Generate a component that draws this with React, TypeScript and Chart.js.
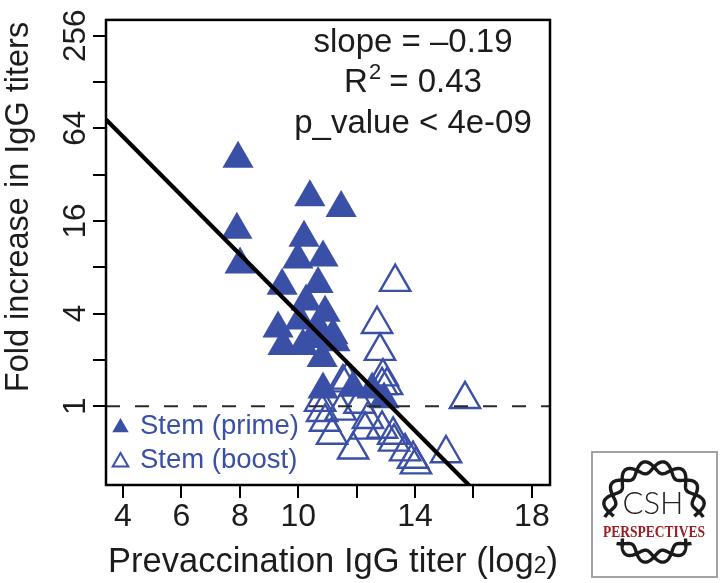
import React, { useEffect, useRef } from "react";
import { Chart, registerables } from "chart.js";

Chart.register(...registerables);

// ---- axis ranges (x: log2 prevaccination titer, y: log2 fold increase) ----
const X_MIN = 3.42;
const X_MAX = 18.62;
const Y_MIN = -1.7;
const Y_MAX = 8.34;

const xTickValues = [4, 6, 8, 10, 12, 14, 16, 18];
const xTickLabelled = [4, 6, 8, 10, 14, 18];
const yTickValues = [0, 1, 2, 3, 4, 5, 6, 7, 8];
const yTickLabelled = [0, 2, 4, 6, 8];

// ---- Stem (prime): filled triangles ----
const primeX = [7.94, 10.4, 11.47, 7.9, 8.01, 10.2, 10.85, 9.99, 10.68, 9.45, 10.27, 9.31, 9.48, 10.16, 10.06, 10.68, 11.19, 10.92, 10.82, 11.26, 10.85, 11.88, 12.53, 12.94, 10.55];
const primeLog2Fold = [5.34, 4.51, 4.28, 3.81, 3.06, 3.64, 3.21, 3.17, 2.64, 2.6, 2.26, 1.68, 1.3, 1.3, 1.85, 1.7, 1.53, 2.02, 1.04, 1.38, 0.36, 0.4, 0.36, 0.15, 1.45];

// ---- Stem (boost): open triangles ----
const boostX = [13.32, 12.7, 12.8, 15.71, 15.06, 14.03, 13.66, 13.28, 11.88, 11.16, 10.92, 10.75, 11.53, 12.87, 12.39, 12.29, 12.87, 13.25, 11.67, 13.04, 10.82, 12.9, 13.93, 11.45, 12.1];
const boostLog2Fold = [2.68, 1.77, 1.19, 0.15, -1.02, -1.26, -0.98, -0.77, -0.94, -0.62, -0.34, 0.09, 0.51, 0.45, -0.28, -0.51, -0.49, -0.62, 0.57, 0.45, -0.13, 0.64, -1.14, -0.1, 0.05];

// ---- regression (log2 units) ----
const regSlope = -0.635;
const regIntercept = 8.36;
const refLineLog2 = 0;

const statSlope = "slope = \u20130.19";
const statR2Value = " = 0.43";
const statP = "p_value < 4e-09";
const legendLabels = ["Stem (prime)", "Stem (boost)"];
const xTitle = "Prevaccination IgG titer (log";
const yTitle = "Fold increase in IgG titers";

const FONT = '"Liberation Sans", Arial, Helvetica, sans-serif';
const BLUE = "#3a4fa6";
const INK = "#1c1c1c";

function tri(ctx: CanvasRenderingContext2D, cx: number, cy: number, r: number) {
  const h = r * Math.sin(Math.PI / 3);
  ctx.beginPath();
  ctx.moveTo(cx, cy - r);
  ctx.lineTo(cx + h, cy + r / 2);
  ctx.lineTo(cx - h, cy + r / 2);
  ctx.closePath();
}

function strandArc(ctx: CanvasRenderingContext2D, cx: number, cy: number, R: number, A: number, n: number, a0: number, a1: number, phase: number) {
  ctx.beginPath();
  const steps = 240;
  for (let i = 0; i <= steps; i++) {
    const t = a0 + ((a1 - a0) * i) / steps;
    const rr = R + A * Math.sin(n * t + phase);
    const x = cx + rr * Math.cos(t);
    const y = cy + rr * Math.sin(t);
    if (i === 0) ctx.moveTo(x, y);
    else ctx.lineTo(x, y);
  }
  ctx.stroke();
}

const decor = {
  id: "decor",
  afterDraw(chart: any) {
    const ctx: CanvasRenderingContext2D = chart.ctx;
    const ca = chart.chartArea;
    const ys = chart.scales.y;
    ctx.save();

    // plot box
    ctx.strokeStyle = "#000";
    ctx.lineWidth = 2.5;
    ctx.strokeRect(ca.left, ca.top, ca.right - ca.left, ca.bottom - ca.top);

    // y tick labels (rotated)
    ctx.fillStyle = INK;
    ctx.font = `31.5px ${FONT}`;
    ctx.textAlign = "center";
    ctx.textBaseline = "alphabetic";
    for (const v of yTickLabelled) {
      const py = ys.getPixelForValue(v);
      ctx.save();
      ctx.translate(85, py);
      ctx.rotate(-Math.PI / 2);
      ctx.fillText(String(Math.pow(2, v)), 0, 0);
      ctx.restore();
    }

    // y title
    ctx.font = `32.5px ${FONT}`;
    ctx.save();
    ctx.translate(28, 207);
    ctx.rotate(-Math.PI / 2);
    ctx.fillText(yTitle, 0, 0);
    ctx.restore();

    // x title with subscript
    ctx.textAlign = "left";
    ctx.font = `34.5px ${FONT}`;
    const wMain = ctx.measureText(xTitle).width;
    ctx.font = `23px ${FONT}`;
    const wSub = ctx.measureText("2").width;
    ctx.font = `34.5px ${FONT}`;
    const wEnd = ctx.measureText(")").width;
    const xtStart = 333 - (wMain + wSub + wEnd) / 2;
    ctx.fillText(xTitle, xtStart, 572);
    ctx.font = `23px ${FONT}`;
    ctx.fillText("2", xtStart + wMain, 573);
    ctx.font = `34.5px ${FONT}`;
    ctx.fillText(")", xtStart + wMain + wSub, 572);

    // statistics text
    ctx.font = `33px ${FONT}`;
    ctx.textAlign = "center";
    ctx.fillText(statSlope, 413, 52);
    ctx.fillText(statP, 413, 133);
    ctx.textAlign = "left";
    const wR = ctx.measureText("R").width;
    const wRest = ctx.measureText(statR2Value).width;
    ctx.font = `22px ${FONT}`;
    const w2 = ctx.measureText("2").width;
    const r2Start = 413 - (wR + w2 + wRest) / 2;
    ctx.font = `33px ${FONT}`;
    ctx.fillText("R", r2Start, 92);
    ctx.fillText(statR2Value, r2Start + wR + w2, 92);
    ctx.font = `22px ${FONT}`;
    ctx.fillText("2", r2Start + wR + 1, 79);

    // legend
    ctx.fillStyle = BLUE;
    ctx.strokeStyle = BLUE;
    tri(ctx, 120.5, 427.5, 9.5);
    ctx.fill();
    ctx.lineWidth = 2;
    tri(ctx, 120.5, 462, 9);
    ctx.stroke();
    ctx.font = `27.5px ${FONT}`;
    ctx.textAlign = "left";
    ctx.fillText(legendLabels[0], 140, 434);
    ctx.fillText(legendLabels[1], 140, 468);

    // CSH Perspectives logo
    ctx.strokeStyle = "#a2a2a2";
    ctx.lineWidth = 2;
    ctx.strokeRect(592, 452, 125, 125);
    ctx.strokeStyle = "#1a1a1a";
    ctx.lineWidth = 3.4;
    const D = Math.PI / 180;
    for (const ph of [0, Math.PI]) {
      strandArc(ctx, 654, 512, 45, 6, 8, 174 * D, 366 * D, ph);
      strandArc(ctx, 654, 512, 45, 6, 8, 40 * D, 140 * D, ph);
    }
    ctx.fillStyle = "#222";
    ctx.textAlign = "center";
    ctx.font = `300 31px Lato, "Open Sans", ${FONT}`;
    ctx.fillText("CSH", 653, 514);
    ctx.fillStyle = "#9b1c22";
    ctx.font = `700 17px "Liberation Serif", "DejaVu Serif", serif`;
    ctx.fillText("PERSPECTIVES", 654, 537, 102);

    ctx.restore();
  },
};

export default function App() {
  const ref = useRef<HTMLCanvasElement>(null);
  useEffect(() => {
    const canvas = ref.current!;
    const prime = primeX.map((x, i) => ({ x, y: primeLog2Fold[i] }));
    const boost = boostX.map((x, i) => ({ x, y: boostLog2Fold[i] }));
    const reg = [X_MIN, X_MAX].map((x) => ({ x, y: regIntercept + regSlope * x }));
    const ref0 = [X_MIN, X_MAX].map((x) => ({ x, y: refLineLog2 }));

    const chart = new Chart(canvas, {
      type: "scatter",
      data: {
        datasets: [
          {
            label: "regression",
            data: reg,
            showLine: true,
            borderColor: "#000",
            borderWidth: 4.2,
            pointRadius: 0,
            order: 0,
            clip: 0,
          },
          {
            label: "fold = 1",
            data: ref0,
            showLine: true,
            borderColor: "#2a2a2a",
            borderWidth: 2,
            borderDash: [14, 15],
            pointRadius: 0,
            order: 1,
            clip: 0,
          },
          {
            label: legendLabels[1],
            data: boost,
            pointStyle: "triangle",
            pointRadius: 17.5,
            pointBorderWidth: 2.4,
            pointBackgroundColor: "rgba(0,0,0,0)",
            pointBorderColor: BLUE,
            order: 2,
          },
          {
            label: legendLabels[0],
            data: prime,
            pointStyle: "triangle",
            pointRadius: 18,
            pointBorderWidth: 0,
            pointBackgroundColor: BLUE,
            pointBorderColor: BLUE,
            order: 3,
          },
        ] as any,
      },
      options: {
        animation: false,
        responsive: false,
        devicePixelRatio: 1,
        events: [],
        layout: { padding: { left: 0, right: 170, top: 13, bottom: 0 } },
        plugins: { legend: { display: false }, tooltip: { enabled: false }, title: { display: false } },
        scales: {
          x: {
            type: "linear",
            min: X_MIN,
            max: X_MAX,
            afterBuildTicks: (s: any) => {
              s.ticks = xTickValues.map((v) => ({ value: v }));
            },
            afterFit: (s: any) => {
              s.height = 98;
            },
            grid: { drawOnChartArea: false, drawTicks: true, tickLength: 13, color: "#000", lineWidth: 2 },
            border: { display: false },
            ticks: {
              autoSkip: false,
              maxRotation: 0,
              minRotation: 0,
              padding: 0,
              color: INK,
              font: { family: FONT, size: 32 },
              callback: (v: any) => (xTickLabelled.includes(Number(v)) ? String(v) : ""),
            },
          },
          y: {
            type: "linear",
            min: Y_MIN,
            max: Y_MAX,
            afterBuildTicks: (s: any) => {
              s.ticks = yTickValues.map((v) => ({ value: v }));
            },
            afterFit: (s: any) => {
              s.width = 106;
            },
            grid: { drawOnChartArea: false, drawTicks: true, tickLength: 13, color: "#000", lineWidth: 2 },
            border: { display: false },
            ticks: { display: false },
          },
        },
      } as any,
      plugins: [decor],
    });
    return () => chart.destroy();
  }, []);

  return (
    <div style={{ position: "absolute", left: 0, top: 0, width: 720, height: 583, background: "#fff" }}>
      <canvas ref={ref} width={720} height={583} style={{ display: "block", width: 720, height: 583 }} />
    </div>
  );
}
